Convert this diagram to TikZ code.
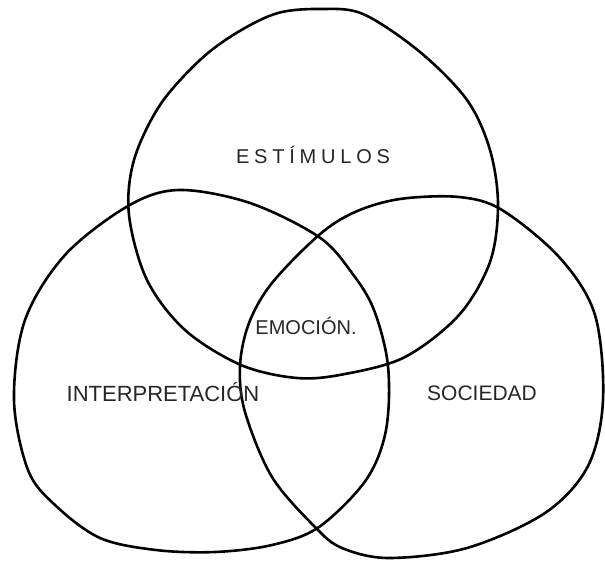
\documentclass[tikz,border=0pt]{standalone}
\usepackage{fontspec}
\setmainfont{Liberation Sans}
\newfontfamily\handwide[LetterSpace=24]{Liberation Sans}
\begin{document}
\begin{tikzpicture}[x=1pt,y=-1pt,
  blob/.style={line width=2.6pt, line join=round, black},
  lbl/.style={inner sep=0pt, text=black!85}]
\useasboundingbox (0,0) rectangle (605,565);
% top circle
\draw[blob] plot[smooth cycle, tension=0.55] coordinates {
 (278,13) (320,9) (363,14) (420,52) (467,100) (490,150) (498,205)
 (490,262) (459,315) (405,357) (345,374) (297,378) (241,365)
 (185,330) (147,280) (129,215) (134,160) (160,105) (200,60) (238,32)};
% left circle
\draw[blob] plot[smooth cycle, tension=0.55] coordinates {
 (179,190) (250,203) (319,237) (352,273) (374,310) (388,366)
 (386,430) (366,480) (319,527) (272,545) (215,552) (156,550) (100,538) (55,505)
 (28,470) (14,400) (25,320) (65,255) (128,206)};
% right circle
\draw[blob] plot[smooth cycle, tension=0.55] coordinates {
 (319,235) (272,283) (249,323) (240,366) (245,412) (272,477) (315,527)
 (342,548) (389,558) (467,548) (545,513) (588,466) (603,400) (595,315)
 (560,258) (502,210) (459,197) (400,199) (355,212)};
\node[lbl, font=\handwide\fontsize{20}{20}\selectfont] (est) at (313,155) {ESTÍMULOS};
\node[lbl, font=\fontsize{20}{20}\selectfont] (emo) at (306,326) {EMOCIÓN.};
\node[lbl, font=\fontsize{22}{22}\selectfont] (int) at (163,392) {INTERPRETACIÓN};
\node[lbl, font=\fontsize{21}{21}\selectfont] (soc) at (482,393) {SOCIEDAD};
\end{tikzpicture}
\end{document}
